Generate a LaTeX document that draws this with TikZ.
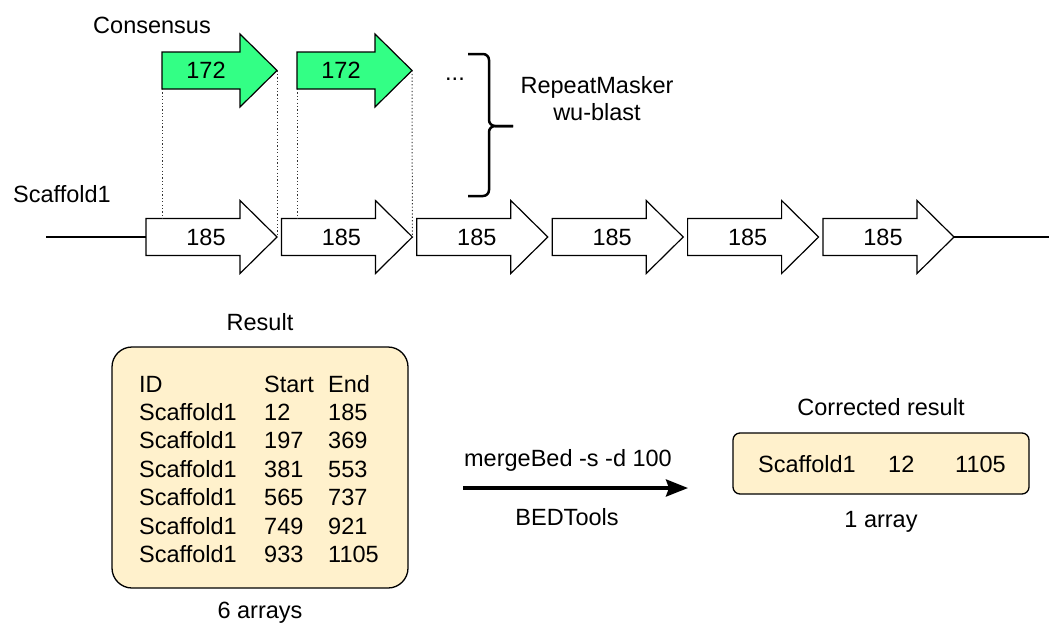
\documentclass[tikz,border=0pt]{standalone}
\usepackage{fontspec}
\setmainfont{Liberation Sans}
\usetikzlibrary{arrows.meta}
\definecolor{consgreen}{RGB}{51,255,133}
\definecolor{boxbeige}{RGB}{255,241,204}
% block arrow: name, left x, tip x, centre y, fill
\newcommand{\unitarrow}[5]{%
  \draw[arrowline, fill=#5] (#2,#4-18.5) -- (#3-37,#4-18.5) -- (#3-37,#4-36.5) -- (#3,#4)
    -- (#3-37,#4+36.5) -- (#3-37,#4+18.5) -- (#2,#4+18.5) -- cycle;
  \coordinate (#1-tip) at (#3,#4);
  \coordinate (#1-nw) at (#2,#4-18.5);
  \coordinate (#1-sw) at (#2,#4+18.5);
  \coordinate (#1-w) at (#2,#4);
}

\begin{document}
\begin{tikzpicture}[x=1pt,y=-1pt,font=\fontsize{23.5}{27}\selectfont,
    arrowline/.style={line width=1.2pt, line join=miter},
    arrowlab/.style={inner sep=0pt},
    lbl/.style={inner sep=0pt, anchor=base},
    cell/.style={inner sep=0pt, anchor=base west},
    guide/.style={line width=1pt, dash pattern=on 1.2pt off 2.2pt, black!80},
    bracket/.style={line width=2.5pt, rounded corners=6pt},
    tablebox/.style={draw, line width=1.3pt, fill=boxbeige, rounded corners=20pt},
    flatbox/.style={draw, line width=1.3pt, fill=boxbeige, rounded corners=7pt}]
  \useasboundingbox (0,0) rectangle (1049,627);
  %%%%% consensus %%%%%
  \node[lbl] (cons) at (152,33) {Consensus};
  \unitarrow{c1}{162}{277}{70.5}{consgreen}
  \node[arrowlab] (c1-lab) at (206,70.5) {172};
  \unitarrow{c2}{297}{412}{70.5}{consgreen}
  \node[arrowlab] (c2-lab) at (341,70.5) {172};
  \node[lbl] (dots) at (455,80) {...};
  
  %%%%% scaffold %%%%%
  \node[cell] (scaf) at (13,202) {Scaffold1};
  \foreach \i in {1,...,6} {
    \pgfmathsetmacro{\tx}{277+135.4*(\i-1)}
    \unitarrow{s\i}{\tx-131}{\tx}{237}{white}
    \node[arrowlab] (s\i-lab) at (\tx-71,237) {185};
  }
  \coordinate (lineL) at (46,237);
  \coordinate (lineR) at (1049,237);
  \draw[line width=1.2pt] (lineL) -- (s1-w);
  \draw[line width=1.2pt] (s6-tip) -- (lineR);
  
  \draw[guide] (c1-sw) -- (c1-sw |- s1-nw);
  \draw[guide] (c1-tip) -- (s1-tip);
  \draw[guide] (c2-sw) -- (c2-sw |- s2-nw);
  \draw[guide] (c2-tip) -- (s2-tip);
  
  %%%%% brace %%%%%
  \coordinate (brTop) at (468,54);
  \coordinate (brBot) at (468,196);
  \coordinate (brTip) at (513,126);
  \draw[bracket] (brTop) -- (489,54) -- (489,126) -- (brTip);
  \draw[bracket] (brBot) -- (489,196) -- (489,126) -- (brTip);
  \node[lbl, align=center] (tool) at (597,120) {RepeatMasker\\wu-blast};
  
  %%%%% result table %%%%%
  \node[lbl] (reslab) at (260,330) {Result};
  \node[tablebox, minimum width=296pt, minimum height=241pt] (result) at (260,467.5) {};
  \foreach \a/\b/\c [count=\k from 0] in {ID/Start/End, Scaffold1/12/185, Scaffold1/197/369,
      Scaffold1/381/553, Scaffold1/565/737, Scaffold1/749/921, Scaffold1/933/1105} {
    \node[cell] (r\k-id) at (139,392+28.4*\k) {\a};
    \node[cell] (r\k-st) at (264,392+28.4*\k) {\b};
    \node[cell] (r\k-en) at (328,392+28.4*\k) {\c};
  }
  \node[lbl] (arr6) at (260,618) {6 arrays};
  
  %%%%% merge %%%%%
  \coordinate (mStart) at (463,488);
  \coordinate (mEnd) at (688,488);
  \draw[line width=3.5pt, -{Stealth[length=22pt, width=17pt, inset=3pt]}] (mStart) -- (mEnd);
  \node[lbl] (mcmd) at (568,466) {mergeBed -s -d 100};
  \node[lbl] (mtool) at (567,525) {BEDTools};
  
  %%%%% corrected %%%%%
  \node[lbl] (corrlab) at (881,415) {Corrected result};
  \node[flatbox, minimum width=296pt, minimum height=61pt] (corr) at (881,463.5) {};
  \node[cell] (corr-id) at (758,472) {Scaffold1};
  \node[cell] (corr-st) at (888,472) {12};
  \node[cell] (corr-en) at (955,472) {1105};
  \node[lbl] (arr1) at (881,527) {1 array};
\end{tikzpicture}
\end{document}
